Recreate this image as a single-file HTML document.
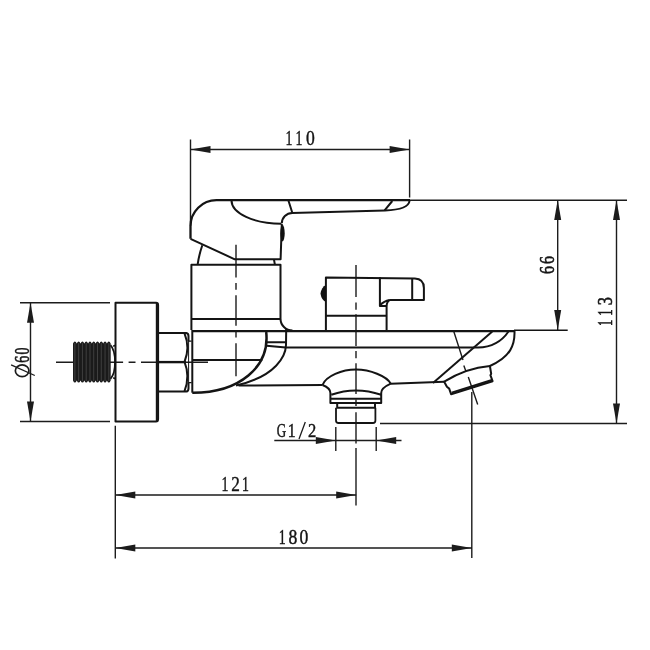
<!DOCTYPE html>
<html><head><meta charset="utf-8"><style>
html,body{margin:0;padding:0;background:#fff;width:650px;height:650px;overflow:hidden}
svg{display:block;will-change:transform}
text{font-family:"Liberation Serif",serif;fill:#141414;stroke:#141414;stroke-width:0.45}
</style></head><body>
<svg width="650" height="650" viewBox="0 0 650 650">
<g fill="none" stroke="#1c1c1c" stroke-width="1.4" stroke-linecap="butt" stroke-linejoin="round">
<!-- ===== DIMENSIONS ===== -->
<!-- 110 -->
<path d="M190.5 139.5V226M409.6 139.5V197.5M190.5 149.5H409.6"/>
<!-- 66 / 113 -->
<path d="M557.7 200V330M616.5 200V423.5M380 423.5H627"/>
<!-- O60 -->
<path d="M20 302.7H110M20 421.5H110M30.5 302.7V421.5"/>
<!-- G1/2 -->
<path d="M335.8 427V451M376.2 427V451M274.3 440.5H401.5"/>
<!-- 121 / 180 -->
<path d="M115.3 425.8V558.5M471.8 392V558M115.3 495H356.2M115.3 548H471.8"/>
<path d="M356 447.9V505.4"/>
</g>
<!-- arrows -->
<g fill="#1c1c1c" stroke="none">
<path d="M190.5 149.5l20 -3.5v7z"/>
<path d="M409.6 149.5l-20 -3.5v7z"/>
<path d="M557.7 200l-3.5 20h7z"/>
<path d="M557.7 330l-3.5 -20h7z"/>
<path d="M616.5 200l-3.5 20h7z"/>
<path d="M616.5 423.5l-3.5 -20h7z"/>
<path d="M30.5 302.7l-3.5 20h7z"/>
<path d="M30.5 421.5l-3.5 -20h7z"/>
<path d="M335.8 440.5l-20 -3.5v7z"/>
<path d="M376.2 440.5l20 -3.5v7z"/>
<path d="M115.3 495l20 -3.5v7z"/>
<path d="M356.2 495l-20 -3.5v7z"/>
<path d="M115.3 548l20 -3.5v7z"/>
<path d="M471.8 548l-20 -3.5v7z"/>
</g>
<!-- text -->
<g>
<text transform="translate(289.10 145.00) scale(0.66 1)" x="-5.54" font-size="21">1</text>
<text transform="translate(299.20 145.00) scale(0.66 1)" x="-5.54" font-size="21">1</text>
<text transform="translate(310.40 145.00) scale(0.84 1)" x="-5.25" font-size="21">0</text>
<text transform="translate(225.20 490.50) scale(0.66 1)" x="-5.54" font-size="21">1</text>
<text transform="translate(235.40 490.50) scale(0.82 1)" x="-5.14" font-size="21">2</text>
<text transform="translate(245.70 490.50) scale(0.66 1)" x="-5.54" font-size="21">1</text>
<text transform="translate(282.50 543.70) scale(0.66 1)" x="-5.54" font-size="21">1</text>
<text transform="translate(293.00 543.70) scale(0.84 1)" x="-5.25" font-size="21">8</text>
<text transform="translate(303.90 543.70) scale(0.84 1)" x="-5.25" font-size="21">0</text>
<text transform="translate(553.60 270.00) rotate(-90) scale(0.76 1)" x="-5.38" font-size="21" style="stroke-width:0.6">6</text>
<text transform="translate(553.60 259.90) rotate(-90) scale(0.76 1)" x="-5.38" font-size="21" style="stroke-width:0.6">6</text>
<text transform="translate(611.80 322.80) rotate(-90) scale(0.6 1)" x="-5.54" font-size="21" style="stroke-width:0.6">1</text>
<text transform="translate(611.80 312.50) rotate(-90) scale(0.6 1)" x="-5.54" font-size="21" style="stroke-width:0.6">1</text>
<text transform="translate(611.80 301.20) rotate(-90) scale(0.78 1)" x="-5.33" font-size="21" style="stroke-width:0.6">3</text>
<text transform="translate(29.40 359.20) rotate(-90) scale(0.66 1)" x="-5.38" font-size="21" style="stroke-width:0.6">6</text>
<text transform="translate(29.40 351.00) rotate(-90) scale(0.66 1)" x="-5.25" font-size="21" style="stroke-width:0.6">0</text>
<text transform="translate(281.50 437.20) scale(0.66 1)" x="-7.19" font-size="19.7">G</text>
<text transform="translate(291.90 437.20) scale(0.8 1)" x="-5.20" font-size="19.7">1</text>
<text transform="translate(312.00 437.20) scale(0.84 1)" x="-4.83" font-size="19.7">2</text>
</g>
<g fill="none" stroke="#1c1c1c" stroke-width="1.3">
<ellipse cx="22.15" cy="370.7" rx="6.8" ry="5.9" stroke-width="1.7"/>
<path d="M11.1 364.8L34.8 375.5M299 439L305.3 422.1"/>
</g>

<g fill="none" stroke="#1c1c1c" stroke-width="1.4" stroke-linejoin="round">
<!-- centerlines -->
<path d="M56 362.2H123.1M128.6 362.2H135.5M141 362.2H208" />
<path d="M236 244.7V277.4M236 282.9V289.7M236 295.2V325.8M236 330.8V337.5M236 343.3V376.3" />
<path d="M356 264.9V296.9M356 302.5V309.8M356 314.2V346M356 350.9V358.3M356 363.2V394M356 399.5V406M356 412.2V443.6"/>
<path d="M453.8 331.5L463 360M463.8 365.4L466 371.5M468.3 377L477.7 404.6"/>
<path d="M409 200.2H627"/>
</g>
<g fill="none" stroke="#141414" stroke-width="2" stroke-linejoin="round">
<!-- handle -->
<path d="M190.5 238.8V226.3A26 26 0 0 1 216.8 200.2H410" stroke-width="2.3"/>
<path d="M190.5 238.8L234.8 259.3H280.6L281.8 224"/>
<path d="M231.5 200.6A49.9 23.1 0 0 0 281.4 223.7"/>
<path d="M281.8 223.3A10.5 10.5 0 0 1 292.2 212.9L385 210.5C398 210 409 207 409.6 200.5"/>
<path d="M288.5 200.8L292.2 212.5M384.6 210.4L392.3 201"/>
<path d="M202.3 245.2Q199 255 197.7 264.2M274 259.6L274.8 264.2"/>
<!-- upper box -->
<path d="M191.4 330V264.8H280.5V318.5A12 12 0 0 0 292.5 330.6"/>
<path d="M191.4 318.9H280.5"/>
<!-- body -->
<path d="M192.3 331.1H515" stroke-width="2.3"/>
<path d="M514 330.3H567.7" stroke-width="1.4"/>
<path d="M192.3 330V392.7" stroke-width="2"/>
<path d="M192.3 392.8C239.5 393 270 366.8 266.2 332" stroke-width="2.5"/>
<path d="M236 385.5C276.6 376.2 285.7 355.5 286 345L286.2 329"/>
<path d="M238.5 385.5L322.5 385M390.8 383.7L444.2 381.7"/>
<path d="M266 342.3H286M266.5 345.8L285.8 347.6H478Q498 347 508.5 331.5"/>
<path d="M514.5 331C515 345 510.5 357 489.9 366"/>
<path d="M492.3 331.5L433 383"/>
<path d="M192.3 360H262.3"/>
<!-- outlet -->
<path d="M322.5 385C326 376 342 369.6 356 369.6C370 369.6 386.5 376 390.8 383.7"/>
<path d="M322.5 385Q330.4 388 330.4 393V403H381.2V393Q381.2 388 390.8 383.7"/>
<path d="M331.3 394.8Q355.7 386 381.2 394.8M330.4 398.8H381.2"/>
<path d="M337.2 403V407.7H375V403"/>
<path d="M336 407.7V420.5Q336 423 338.5 423H373Q375.4 423 375.4 420.5V407.7" stroke-width="1.8"/>
<!-- knob -->
<path d="M325.9 331V277.4L414.8 278.6Q423.9 279 423.9 288V299.9H390.2Q386.6 301.5 386.6 306.5V331"/>
<path d="M379.9 277.2V306H386.6M379.9 305.3Q384 301 389.5 300M412.2 279V299.9M325.9 315.7H386.6"/>
<!-- diverter -->
<path d="M444.2 381.7Q466 368 489.9 366L491.2 373.8L490.4 375.2L492.6 381.2L451.1 394.2L449.2 388.6L446.9 386.8Z"/>
<path d="M451.6 392.6L491.9 380"/>
<!-- wall plate -->
<path d="M115.5 302.7H156Q158.1 302.7 158.1 305V419Q158.1 421.5 156 421.5H115.5Z"/>
<path d="M156.8 303V421" stroke-width="2"/>
<!-- hex nut -->
<path d="M158.7 332.9H186.3Q188.5 333.3 188.5 336V341.2M188.5 382.6V388.4Q188.5 391.2 186.3 391.6H158.7"/>
<path d="M184.5 333.4Q190.3 347.6 184.5 361.8Q190.3 376 184.5 391.2"/>
<path d="M188.6 341V383" stroke-width="1"/>
<path d="M158.7 362.1H186" stroke-width="2.4"/>
<path d="M188.5 341.2H191.6M188.5 382.6H191.6" stroke-width="1.3"/>
<!-- thread dome -->
<path d="M110.5 345.2Q115 350 115 362Q115 374 110.5 378.8M113.2 346.2L115.5 345.2M113.2 377.8L115.5 378.8" stroke-width="1.7"/>
</g>
<!-- black bits -->
<g fill="#111" stroke="none">
<ellipse cx="282.5" cy="233.3" rx="2.2" ry="8.2"/>
<path d="M325.9 285Q321.5 287 320.5 293.7Q321.5 300 325.9 302Z"/>
<path d="M73.0 343.6Q74.89 339.2 76.77 343.6Q78.66 339.2 80.54 343.6Q82.43 339.2 84.31 343.6Q86.20 339.2 88.08 343.6Q89.97 339.2 91.85 343.6Q93.73 339.2 95.62 343.6Q97.51 339.2 99.39 343.6Q101.28 339.2 103.16 343.6Q105.05 339.2 106.93 343.6Q108.82 339.2 110.70 343.6V380.4Q108.81 384.8 106.93 380.4Q105.05 384.8 103.16 380.4Q101.27 384.8 99.39 380.4Q97.50 384.8 95.62 380.4Q93.73 384.8 91.85 380.4Q89.96 384.8 88.08 380.4Q86.19 384.8 84.31 380.4Q82.42 384.8 80.54 380.4Q78.65 384.8 76.77 380.4Q74.88 384.8 73.00 380.4Z" fill="#1a1a1a"/>
<path d="M74.89 343V381M78.66 343V381M82.42 343V381M86.20 343V381M89.97 343V381M93.73 343V381M97.50 343V381M101.28 343V381M105.05 343V381M108.81 343V381" stroke="#444" stroke-width="0.9" fill="none"/>
</g>
</svg>
</body></html>
